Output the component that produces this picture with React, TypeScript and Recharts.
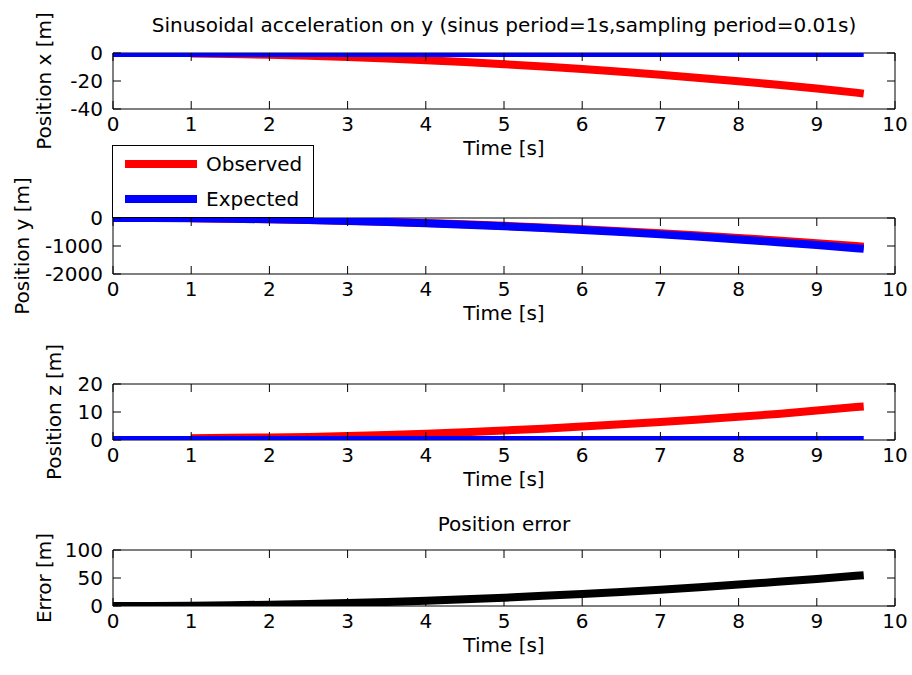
import React from "react";
import { LineChart, Line, XAxis, YAxis, ReferenceArea } from "recharts";

// time samples [s]
const TIME = [0, 0.5, 1, 1.5, 2, 2.5, 3, 3.5, 4, 4.5, 5, 5.5, 6, 6.5, 7, 7.5, 8, 8.5, 9, 9.5, 9.6];

// position x [m]
const OBS_X = [null, null, -0.3, -0.7, -1.3, -2.0, -2.9, -3.9, -5.1, -6.5, -8.0, -9.7, -11.5, -13.4, -15.5, -17.8, -20.2, -22.7, -25.4, -28.3, -29.0];
const EXP_X = [0, 0, 0, 0, 0, 0, 0, 0, 0, 0, 0, 0, 0, 0, 0, 0, 0, 0, 0, 0, 0];

// position y [m]
const OBS_Y = [null, null, -11, -25, -45, -70, -100, -136, -178, -225, -278, -336, -400, -469, -544, -624, -711, -802, -900, -1002, -1024];
const EXP_Y = [0, -3, -12, -27, -48, -75, -107, -146, -191, -242, -298, -361, -430, -504, -585, -671, -764, -862, -967, -1077, -1100];

// position z [m]
const OBS_Z = [null, null, 0.6, 0.8, 0.9, 1.1, 1.4, 1.8, 2.2, 2.8, 3.4, 4.0, 4.8, 5.6, 6.4, 7.3, 8.3, 9.3, 10.5, 11.8, 12.0];
const EXP_Z = [0, 0, 0, 0, 0, 0, 0, 0, 0, 0, 0, 0, 0, 0, 0, 0, 0, 0, 0, 0, 0];

// position error [m]
const ERR = [0, 0.15, 0.6, 1.3, 2.4, 3.7, 5.4, 7.3, 9.5, 12.1, 14.9, 18.1, 21.5, 25.2, 29.2, 33.6, 38.2, 43.1, 48.3, 53.9, 55.0];

const X_TICKS = [0, 1, 2, 3, 4, 5, 6, 7, 8, 9, 10];

const FONT = "'DejaVu Sans', sans-serif";
const W = 912;
const LEFT = 113;
const RIGHT = 17;
const PW = W - LEFT - RIGHT;
const PH = 56;
const M_TOP = 40;
const M_BOT = 50;

const rows = (obs, exp) => TIME.map((t, i) => ({ t, obs: obs ? obs[i] : null, exp: exp[i] }));

// matlab-style: ticks point inward on both sides of the box
const xTick = (props) => {
  const { x, y, payload } = props;
  return (
    <g>
      <line x1={x} y1={y} x2={x} y2={y - 8} stroke="#000" />
      <line x1={x} y1={y - PH} x2={x} y2={y - PH + 8} stroke="#000" />
      <text x={x} y={y + 22} textAnchor="middle" fontSize={20} fontFamily={FONT} fill="#000">
        {payload.value}
      </text>
    </g>
  );
};

const yTick = (props) => {
  const { x, y, payload } = props;
  return (
    <g>
      <line x1={x} y1={y} x2={x + 8} y2={y} stroke="#000" />
      <line x1={x + PW} y1={y} x2={x + PW - 8} y2={y} stroke="#000" />
      <text x={x - 10} y={y} textAnchor="end" dominantBaseline="central" fontSize={20} fontFamily={FONT} fill="#000">
        {payload.value}
      </text>
    </g>
  );
};

function Subplot({ top, data, domain, ticks, series }) {
  return (
    <div style={{ position: "absolute", left: 0, top: top - M_TOP }}>
      <LineChart
        width={W}
        height={PH + M_TOP + M_BOT}
        data={data}
        margin={{ top: M_TOP, right: RIGHT, bottom: M_BOT - 1, left: LEFT - 1 }}
      >
        <XAxis
          dataKey="t"
          type="number"
          domain={[0, 10]}
          ticks={X_TICKS}
          interval={0}
          height={1}
          tickSize={0}
          tickMargin={0}
          axisLine={false}
          tick={xTick}
        />
        <YAxis
          type="number"
          domain={domain}
          ticks={ticks}
          interval={0}
          width={1}
          tickSize={0}
          tickMargin={0}
          axisLine={false}
          allowDataOverflow
          tick={yTick}
        />
        {series.map((s) => (
          <Line
            key={s.key}
            dataKey={s.key}
            stroke={s.color}
            strokeWidth={8}
            strokeLinecap="butt"
            dot={false}
            activeDot={false}
            isAnimationActive={false}
          />
        ))}
        <ReferenceArea x1={0} x2={10} y1={domain[0]} y2={domain[1]} fill="none" stroke="#000" strokeWidth={1} fillOpacity={0} />
      </LineChart>
    </div>
  );
}

const txt = { position: "absolute", fontFamily: FONT, fontSize: 20, color: "#000", whiteSpace: "nowrap", lineHeight: 1 };

function Centered({ x, y, children, rotate, lh }) {
  return (
    <div
      style={{
        ...txt,
        lineHeight: lh ? `${lh}px` : 1,
        left: x,
        top: y,
        transform: `translate(-50%, -50%)${rotate ? " rotate(-90deg)" : ""}`,
      }}
    >
      {children}
    </div>
  );
}

const PAIR = [
  { key: "obs", color: "#ff0000" },
  { key: "exp", color: "#0000ff" },
];

export default function App() {
  const cx = LEFT + PW / 2;
  return (
    <div style={{ position: "absolute", left: 0, top: 0, width: W, height: 675, background: "#fff", overflow: "hidden" }}>
      <Subplot top={53} data={rows(OBS_X, EXP_X)} domain={[-40, 0]} ticks={[-40, -20, 0]} series={PAIR} />
      <Subplot top={218} data={rows(OBS_Y, EXP_Y)} domain={[-2000, 0]} ticks={[-2000, -1000, 0]} series={PAIR} />
      <Subplot top={384} data={rows(OBS_Z, EXP_Z)} domain={[0, 20]} ticks={[0, 10, 20]} series={PAIR} />
      <Subplot top={550} data={rows(null, ERR)} domain={[0, 100]} ticks={[0, 50, 100]} series={[{ key: "exp", color: "#000000" }]} />

      <Centered x={cx} y={25}>Sinusoidal acceleration on y (sinus period=1s,sampling period=0.01s)</Centered>
      <Centered x={cx} y={524}>Position error</Centered>

      <Centered x={cx} y={147.5} lh={14}>Time [s]</Centered>
      <Centered x={cx} y={312.5} lh={14}>Time [s]</Centered>
      <Centered x={cx} y={478.5} lh={14}>Time [s]</Centered>
      <Centered x={cx} y={644.5} lh={14}>Time [s]</Centered>

      <Centered x={44} y={81} rotate>Position x [m]</Centered>
      <Centered x={22} y={246} rotate>Position y [m]</Centered>
      <Centered x={54} y={412} rotate>Position z [m]</Centered>
      <Centered x={44} y={578} rotate>Error [m]</Centered>

      <div
        style={{
          position: "absolute",
          left: 112,
          top: 145,
          width: 200,
          height: 71,
          border: "1px solid #000",
          background: "#fff",
          zIndex: 2,
        }}
      >
        <div style={{ position: "absolute", left: 12, top: 14, width: 72, height: 8, background: "#ff0000" }} />
        <div style={{ ...txt, left: 93, top: 18, transform: "translateY(-50%)" }}>Observed</div>
        <div style={{ position: "absolute", left: 12, top: 49, width: 72, height: 8, background: "#0000ff" }} />
        <div style={{ ...txt, left: 93, top: 53, transform: "translateY(-50%)" }}>Expected</div>
      </div>
    </div>
  );
}
